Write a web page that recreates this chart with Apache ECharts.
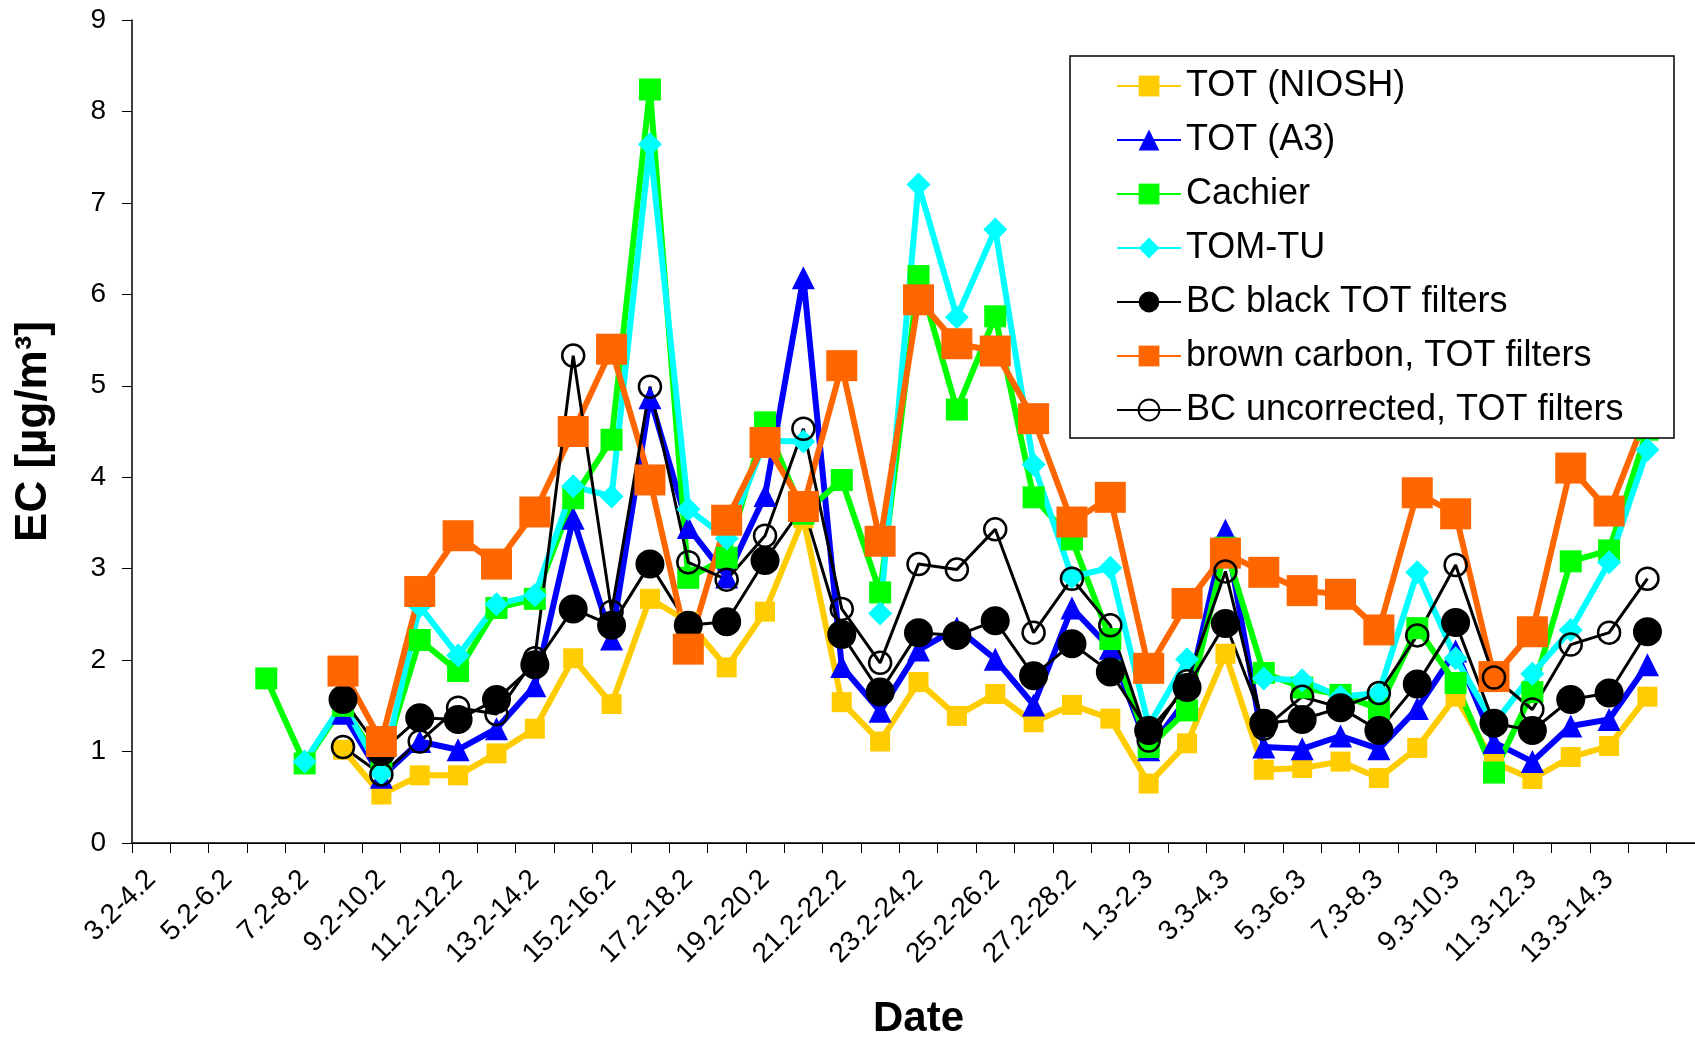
<!DOCTYPE html>
<html>
<head>
<meta charset="utf-8">
<script src="https://cdn.jsdelivr.net/npm/echarts@6/dist/echarts.min.js"></script>
<style>
html,body{margin:0;padding:0;background:#fff;}
#chart{width:1695px;height:1040px;}
</style>
</head>
<body>
<div id="chart"></div>
<script>
const categories = ["3.2-4.2","4.2-5.2","5.2-6.2","6.2-7.2","7.2-8.2","8.2-9.2","9.2-10.2","10.2-11.2","11.2-12.2","12.2-13.2","13.2-14.2","14.2-15.2","15.2-16.2","16.2-17.2","17.2-18.2","18.2-19.2","19.2-20.2","20.2-21.2","21.2-22.2","22.2-23.2","23.2-24.2","24.2-25.2","25.2-26.2","26.2-27.2","27.2-28.2","28.2-1.3","1.3-2.3","2.3-3.3","3.3-4.3","4.3-5.3","5.3-6.3","6.3-7.3","7.3-8.3","8.3-9.3","9.3-10.3","10.3-11.3","11.3-12.3","12.3-13.3","13.3-14.3","14.3-15.3",""];

const totNiosh = [null,null,null,null,null,1.02,0.53,0.74,0.74,0.98,1.25,2.02,1.52,2.67,2.42,1.92,2.53,3.55,1.54,1.11,1.76,1.39,1.63,1.32,1.51,1.36,0.65,1.09,2.07,0.80,0.82,0.89,0.71,1.04,1.60,0.88,0.70,0.94,1.06,1.60,null];
const totA3 = [null,null,null,null,null,1.42,0.72,1.11,1.02,1.25,1.72,3.55,2.23,4.87,3.45,2.91,3.80,6.18,1.93,1.44,2.11,2.35,2.01,1.51,2.57,2.13,1.02,1.58,3.42,1.05,1.03,1.17,1.03,1.47,2.10,1.10,0.89,1.28,1.35,1.95,null];
const cachier = [null,null,null,1.80,0.87,1.50,0.85,2.22,1.88,2.57,2.67,3.77,4.41,8.24,2.90,3.12,4.60,3.60,3.97,2.74,6.20,4.74,5.76,3.78,3.32,2.23,1.05,1.45,3.23,1.86,1.70,1.62,1.47,2.35,1.75,0.77,1.65,3.08,3.20,4.52,null];
const tomTu = [null,null,null,null,0.89,1.53,0.76,2.59,2.05,2.61,2.71,3.90,3.79,7.64,3.65,3.33,4.40,4.39,null,2.51,7.20,5.75,6.71,4.14,2.91,3.01,1.28,2.01,null,1.80,1.78,1.60,1.64,2.96,2.02,1.30,1.85,2.33,3.07,4.30,null];
const bcBlack = [null,null,null,null,null,1.57,1.00,1.37,1.35,1.57,1.95,2.56,2.38,3.05,2.38,2.42,3.09,3.68,2.28,1.65,2.30,2.27,2.43,1.83,2.18,1.87,1.23,1.70,2.40,1.31,1.35,1.48,1.23,1.74,2.41,1.31,1.23,1.57,1.64,2.31,null];
const brownCarbon = [null,null,null,null,null,1.88,1.11,2.75,3.36,3.05,3.62,4.50,5.40,3.97,2.12,3.53,4.38,3.68,5.22,3.30,5.94,5.46,5.38,4.64,3.51,3.78,1.91,2.62,3.17,2.96,2.76,2.72,2.33,3.83,3.60,1.82,2.31,4.10,3.63,4.70,null];
const bcUncorr = [null,null,null,null,null,1.05,0.75,1.11,1.48,1.41,2.02,5.33,2.53,4.99,3.07,2.88,3.36,4.53,2.56,1.97,3.05,2.99,3.43,2.30,2.89,2.38,1.12,1.77,2.97,1.25,1.60,1.48,1.64,2.27,3.04,1.81,1.46,2.17,2.30,2.89,null];

const yTicks = [0,1,2,3,4,5,6,7,8,9];

const FONT = "'Liberation Sans', Arial, sans-serif";

function lineSeries(name, data, color, width, symbol, size, extra) {
  const s = {
    name: name,
    type: 'line',
    data: data,
    symbol: symbol,
    symbolSize: size,
    showSymbol: true,
    showAllSymbol: true,
    connectNulls: false,
    lineStyle: { color: color, width: width },
    itemStyle: { color: color },
    emphasis: { disabled: true },
    animation: false
  };
  return Object.assign(s, extra || {});
}

const chart = echarts.init(document.getElementById('chart'), null, { renderer: 'canvas' });
chart.setOption({
  backgroundColor: '#ffffff',
  animation: false,
  textStyle: { fontFamily: FONT },
  grid: { left: 132, top: 20, right: -10, bottom: 197, containLabel: false, outerBoundsMode: 'none' },
  xAxis: [{
    type: 'category',
    data: categories,
    boundaryGap: true,
    position: 'bottom',
    axisLine: { show: true, onZero: false, lineStyle: { color: '#000', width: 1.5 } },
    axisTick: { show: true, interval: 0, length: 10, inside: false, lineStyle: { color: '#000', width: 1 } },
    axisLabel: { interval: 1, rotate: 45, fontSize: 28, color: '#000', fontFamily: FONT, margin: 32, padding: [0, 0, 36, 0] },
    splitLine: { show: false },
    name: 'Date',
    nameLocation: 'middle',
    nameGap: 155,
    nameTextStyle: { fontSize: 42, fontWeight: 'bold', color: '#000', fontFamily: FONT }
  }, {
    type: 'category',
    data: categories,
    position: 'top',
    axisLine: { show: true, lineStyle: { color: '#000', width: 1 } },
    axisTick: { show: false },
    axisLabel: { show: false },
    splitLine: { show: false }
  }],
  yAxis: {
    type: 'value',
    min: yTicks[0],
    max: yTicks[yTicks.length - 1],
    interval: 1,
    axisLine: { show: true, lineStyle: { color: '#000', width: 1.5 } },
    axisTick: { show: true, length: 10, inside: false, lineStyle: { color: '#000', width: 1 } },
    axisLabel: { fontSize: 28, color: '#000', fontFamily: FONT, margin: 26 },
    splitLine: { show: false },
    name: 'EC [µg/m³]',
    nameLocation: 'middle',
    nameGap: 76,
    nameTextStyle: { fontSize: 44, fontWeight: 'bold', color: '#000', fontFamily: FONT }
  },
  graphic: [{
    type: 'rect',
    z: 100,
    shape: { x: 1070, y: 56, width: 604, height: 382 },
    style: { fill: '#ffffff', stroke: '#000000', lineWidth: 1.5 }
  }],
  legend: {
    orient: 'vertical',
    left: 1116,
    top: 68,
    z: 200,
    itemWidth: 64,
    itemHeight: 26,
    itemGap: 18,
    padding: 0,
    textStyle: { fontSize: 36, color: '#000', fontFamily: FONT, lineHeight: 36 },
    data: ['TOT (NIOSH)', 'TOT (A3)', 'Cachier', 'TOM-TU', 'BC black TOT filters', 'brown carbon, TOT filters', 'BC uncorrected, TOT filters']
  },
  series: [
    lineSeries('TOT (NIOSH)', totNiosh, '#FFCC00', 6, 'rect', 20),
    lineSeries('TOT (A3)', totA3, '#0000FF', 6, 'triangle', 23),
    lineSeries('Cachier', cachier, '#00FF00', 6, 'rect', 22),
    lineSeries('TOM-TU', tomTu, '#00FFFF', 6, 'diamond', 24),
    lineSeries('BC black TOT filters', bcBlack, '#000000', 3, 'circle', 29),
    lineSeries('brown carbon, TOT filters', brownCarbon, '#FF6600', 6, 'rect', 31),
    lineSeries('BC uncorrected, TOT filters', bcUncorr, '#000000', 3, 'circle', 22, {
      itemStyle: { color: 'rgba(0,0,0,0)', borderColor: '#000', borderWidth: 2.5 }
    })
  ]
});
</script>
</body>
</html>
